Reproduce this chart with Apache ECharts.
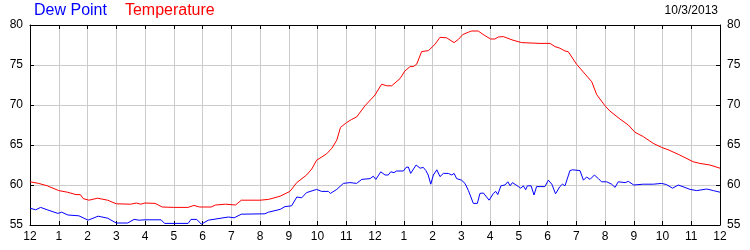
<!DOCTYPE html>
<html>
<head>
<meta charset="utf-8">
<script src="https://cdn.jsdelivr.net/npm/echarts@6/dist/echarts.min.js"></script>
<style>
html,body{margin:0;padding:0;background:#fff;}
#chart{width:750px;height:250px;}
</style>
</head>
<body>
<div id="chart"></div>
<script>
// Hour labels along the x axis (midnight to midnight)
const hourLabels = ['12','1','2','3','4','5','6','7','8','9','10','11','12','1','2','3','4','5','6','7','8','9','10','11','12'];
const dateLabel = '10/3/2013';
const seriesNames = ['Dew Point', 'Temperature'];

// Temperature readings: hour of day and value (°F)
const tempHours = [0,0.3,0.6,1.0,1.3,1.6,1.75,1.85,2.05,2.35,2.7,3.0,3.5,3.7,3.85,4.0,4.35,4.6,5.0,5.5,5.7,5.9,6.3,6.45,6.8,7.15,7.35,8.0,8.3,8.7,9.04,9.28,9.62,9.8,9.97,10.32,10.5,10.67,10.8,11.01,11.19,11.36,11.65,12.0,12.23,12.41,12.58,12.87,13.04,13.22,13.33,13.45,13.62,13.86,14.09,14.26,14.49,14.75,14.9,15.05,15.25,15.36,15.59,15.79,16.02,16.17,16.29,16.46,16.8,17.1,17.74,18.09,18.26,18.43,18.61,18.72,19.01,19.25,19.54,19.71,20.0,20.17,20.52,20.81,21.04,21.33,21.68,21.97,22.2,22.6,23.07,23.3,23.65,24];
const tempValues = [60.4,60.2,59.9,59.3,59.1,58.8,58.8,58.3,58.1,58.35,58.1,57.65,57.6,57.75,57.6,57.75,57.7,57.25,57.2,57.2,57.45,57.25,57.25,57.5,57.6,57.5,58.1,58.1,58.2,58.6,59.2,60.3,61.25,62.0,63.1,63.9,64.6,65.6,67.2,67.8,68.2,68.5,69.9,71.25,72.6,72.4,72.4,73.3,74.25,74.8,74.8,75.1,76.67,76.8,77.6,78.46,78.4,77.8,78.2,78.8,79.1,79.25,79.25,78.75,78.25,78.25,78.5,78.55,78.1,77.8,77.7,77.7,77.3,77.1,76.75,76.67,75.1,74.1,72.9,71.3,69.9,69.25,68.25,67.5,66.6,66.05,65.2,64.7,64.4,63.75,62.9,62.7,62.5,62.1];

// Dew point readings: hour of day and value (°F)
const dewHours = [0,0.2,0.37,0.6,0.97,1.1,1.32,1.7,2.02,2.37,2.7,3.0,3.4,3.62,3.8,4.0,4.56,4.68,5.5,5.6,5.8,5.96,6.2,6.9,7.1,7.35,8.17,8.29,8.7,8.87,9.1,9.28,9.45,9.62,9.97,10.14,10.38,10.45,10.67,10.9,11.13,11.36,11.54,11.83,11.94,12.03,12.2,12.35,12.46,12.55,12.66,12.75,12.99,13.08,13.16,13.24,13.43,13.57,13.68,13.77,13.85,13.94,14.03,14.15,14.26,14.38,14.55,14.67,14.75,14.84,15.01,15.13,15.25,15.3,15.42,15.56,15.65,15.77,15.83,15.97,16.12,16.2,16.27,16.38,16.52,16.62,16.7,16.78,16.99,17.07,17.16,17.24,17.3,17.43,17.53,17.62,17.91,18.03,18.15,18.28,18.43,18.52,18.61,18.78,18.87,19.13,19.25,19.36,19.48,19.63,19.77,19.88,20.06,20.23,20.35,20.46,20.7,20.81,21.0,21.33,21.68,21.97,22.14,22.35,22.55,22.96,23.19,23.54,23.77,24];
const dewValues = [57.1,56.9,57.2,56.9,56.45,56.6,56.25,56.15,55.6,56.1,55.85,55.25,55.25,55.7,55.6,55.65,55.65,55.2,55.2,55.7,55.7,55.1,55.6,56.0,55.9,56.35,56.4,56.6,56.95,57.3,57.4,58.5,58.4,59.05,59.45,59.2,59.2,58.95,59.45,60.2,60.3,60.2,60.7,60.8,61.1,60.7,61.65,61.25,61.25,61.65,61.55,61.75,61.75,62.2,62.25,61.45,62.5,62.1,62.2,61.8,61.25,60.1,61.25,61.9,61.05,61.45,61.45,61.25,61.45,60.8,60.6,60.2,59.3,59.45,57.7,57.7,58.95,59.0,59.17,58.1,58.96,59.2,58.8,59.9,60.0,60.4,59.9,60.3,59.8,59.6,59.9,59.4,59.9,59.9,58.75,59.8,59.8,60.6,60.1,58.9,59.8,60.1,59.9,61.8,61.9,61.8,60.6,61.0,60.7,61.25,60.8,60.4,60.4,60.1,59.7,60.4,60.3,60.45,60.0,60.1,60.1,60.2,60.05,59.6,60.0,59.45,59.3,59.5,59.3,59.1];

const yMin = 55, yMax = 80, yStep = 5;

function pairs(xs, ys) { return xs.map((x, i) => [x, ys[i]]); }

const chart = echarts.init(document.getElementById('chart'), null, {renderer: 'canvas'});
const font = 'Arial, "Liberation Sans", sans-serif';
const axisBase = {
  type: 'value', min: 0, max: 24, interval: 1,
  axisLine: {show: true, onZero: false, lineStyle: {color: '#000', width: 1}},
  axisTick: {show: true, inside: true, length: 4, lineStyle: {color: '#000'}},
};
const yBase = {
  type: 'value', min: yMin, max: yMax, interval: yStep,
  axisLine: {show: true, onZero: false, lineStyle: {color: '#000', width: 1}},
  axisTick: {show: true, inside: true, length: 4, lineStyle: {color: '#000'}},
  axisLabel: {color: '#000', fontSize: 12, fontFamily: font, margin: 7},
};
chart.setOption({
  animation: false,
  backgroundColor: '#fff',
  textStyle: {fontFamily: font},
  grid: {left: 30, right: 30, top: 25, bottom: 25, containLabel: false},
  legend: {
    left: 28, top: 3, padding: 0, itemGap: 12,
    itemWidth: 0, itemHeight: 0,
    itemStyle: {opacity: 0}, lineStyle: {opacity: 0},
    selectedMode: false,
    data: [
      {name: seriesNames[0], textStyle: {color: '#0000ff', fontSize: 16, fontFamily: font}},
      {name: seriesNames[1], textStyle: {color: '#ff0000', fontSize: 16, fontFamily: font}}
    ]
  },
  title: {
    text: dateLabel, right: 32, top: 5, padding: 0,
    textStyle: {color: '#000', fontSize: 12, fontWeight: 'normal', fontFamily: font}
  },
  xAxis: [
    Object.assign({}, axisBase, {
      position: 'bottom',
      axisLabel: {color: '#000', fontSize: 12, fontFamily: font, margin: 6,
        formatter: v => hourLabels[Math.round(v)]},
      splitLine: {show: true, lineStyle: {color: '#cccccc', width: 1}}
    }),
    Object.assign({}, axisBase, {
      position: 'top',
      axisLabel: {show: false},
      splitLine: {show: false}
    })
  ],
  yAxis: [
    Object.assign({}, yBase, {position: 'left',
      splitLine: {show: true, lineStyle: {color: '#cccccc', width: 1}}}),
    Object.assign({}, yBase, {position: 'right', splitLine: {show: false}})
  ],
  series: [
    {name: seriesNames[0], type: 'line', xAxisIndex: 0, yAxisIndex: 0,
     data: pairs(dewHours, dewValues), showSymbol: false, symbol: 'none',
     lineStyle: {color: '#0000ff', width: 1}, itemStyle: {color: '#0000ff'}},
    {name: seriesNames[1], type: 'line', xAxisIndex: 0, yAxisIndex: 0,
     data: pairs(tempHours, tempValues), showSymbol: false, symbol: 'none',
     lineStyle: {color: '#ff0000', width: 1}, itemStyle: {color: '#ff0000'}}
  ]
});
</script>
</body>
</html>
